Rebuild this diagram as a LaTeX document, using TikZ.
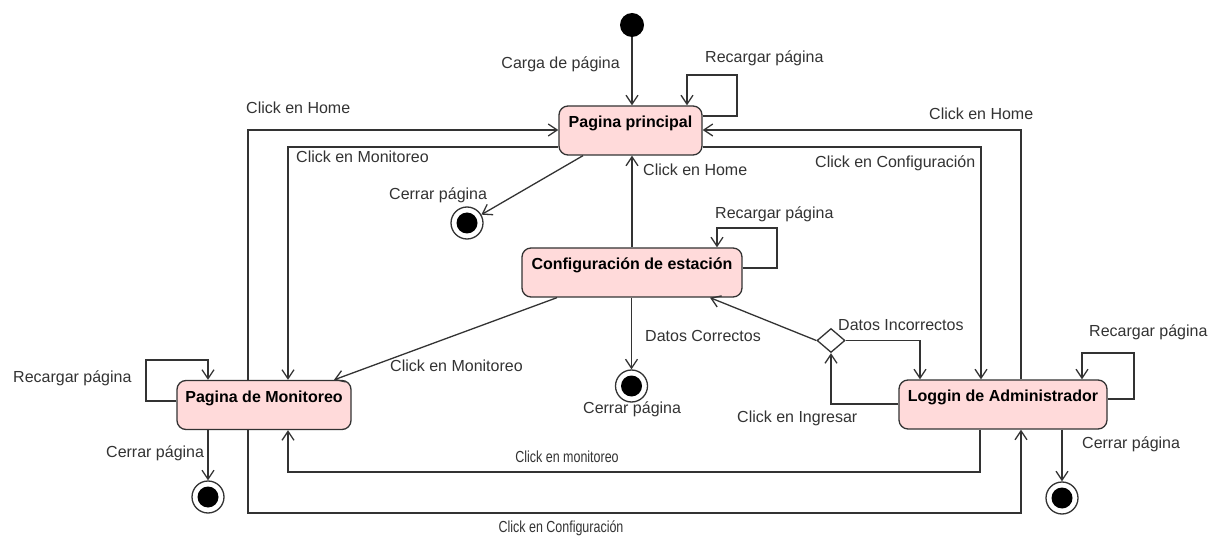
\documentclass[tikz,border=0pt]{standalone}
\usepackage{fontspec}
\usepackage{graphicx}
\setmainfont{Liberation Sans}
\usetikzlibrary{arrows.meta,shapes.geometric}
\definecolor{ln}{HTML}{333333}
\definecolor{boxfill}{HTML}{FFDADA}
\begin{document}
\begin{tikzpicture}[x=1pt,y=-1pt,
 state/.style={draw=ln, line width=1.3pt, fill=boxfill, rounded corners=9pt, minimum height=49pt, inner sep=0pt, text height=12pt, text depth=17.5pt, font=\fontsize{16}{19}\selectfont\bfseries},
 lbl/.style={text=ln, inner sep=0pt, text height=11.7pt, text depth=0pt, font=\fontsize{16}{19}\selectfont},
 arr/.style={draw=ln, line width=1.3pt, -{Straight Barb[length=9pt,width=12pt]}},
 ln/.style={draw=ln, line width=1.3pt},
 finalst/.style={circle, draw=ln, line width=1.3pt, fill=white, minimum size=32pt, inner sep=0pt, path picture={\fill[black] (path picture bounding box.center) circle[radius=10.5pt];}},
 initst/.style={circle, fill=black, minimum size=24pt, inner sep=0pt},
 decision/.style={diamond, draw=ln, line width=1.3pt, fill=white, minimum width=28pt, minimum height=24pt, inner sep=0pt}
]
\fill[white] (0,0) rectangle (1218,537);
\useasboundingbox (0,0) rectangle (1218,537);

% states
\node[initst] (init) at (632,25) {};
\node[state, minimum width=143pt] (pp) at (630.5,130.5) {Pagina principal};
\node[state, minimum width=220pt] (cfg) at (632,272.5) {Configuración de estación};
\node[state, minimum width=174pt] (mon) at (264,405) {Pagina de Monitoreo};
\node[state, minimum width=208pt] (log) at (1003,404.5) {Loggin de Administrador};
\node[finalst] (fin1) at (467,223) {};
\node[finalst] (fin2) at (208,497) {};
\node[finalst] (fin3) at (631.5,386) {};
\node[finalst] (fin4) at (1062,498) {};
\node[decision] (dec) at (831,340.5) {};

% connectors
\draw[arr] (init) -- (init |- pp.north);
\draw[arr] (pp.east |- 0,116) -- (737,116) -- (737,75) -- (687,75) -- (pp.north -| 687,0);
\draw[arr] (mon.north -| 248,0) -- (248,130) -- (pp.west |- 0,130);
\draw[arr] (pp.west |- 0,147) -- (288,147) -- (mon.north -| 288,0);
\draw[arr] (log.north -| 1021,0) -- (1021,130) -- (pp.east |- 0,130);
\draw[arr] (pp.east |- 0,147) -- (981,147) -- (log.north -| 981,0);
\draw[arr] (cfg.north) -- (pp.south -| cfg.north);
\draw[arr] (pp.south -| 583,0) -- (fin1);
\draw[arr] (cfg.east |- 0,268) -- (777,268) -- (777,228) -- (717,228) -- (cfg.north -| 717,0);
\draw[arr] (cfg.south -| 557,0) -- (mon.north -| 334,0);
\draw[arr] (cfg.south -| 631.5,0) -- (fin3);
\draw[arr] (dec.west) -- (cfg.south -| 710,0);
\draw[arr] (dec.east) -- (dec.east -| 920,0) -- (log.north -| 920,0);
\draw[arr] (log.west |- 0,404) -| (dec.south);
\draw[arr] (log.east |- 0,399) -- (1134,399) -- (1134,353) -- (1082,353) -- (log.north -| 1082,0);
\draw[arr] (log.south -| 1062,0) -- (fin4);
\draw[arr] (log.south -| 980,0) -- (980,472) -- (288,472) -- (mon.south -| 288,0);
\draw[arr] (mon.south -| 248,0) -- (248,513) -- (1021,513) -- (log.south -| 1021,0);
\draw[arr] (mon.west |- 0,401) -- (146,401) -- (146,360) -- (208,360) -- (mon.north -| 208,0);
\draw[arr] (mon.south -| 208,0) -- (fin2);

% labels
\node[lbl, anchor=east] (l1) at (620,63) {Carga de página};
\node[lbl, anchor=west] (l2) at (705,57) {Recargar página};
\node[lbl, anchor=west] (l3) at (246,108) {Click en Home};
\node[lbl, anchor=west] (l4) at (296,157) {Click en Monitoreo};
\node[lbl, anchor=west] (l5) at (389,194) {Cerrar página};
\node[lbl, anchor=west] (l6) at (643,170) {Click en Home};
\node[lbl, anchor=west] (l7) at (929,114) {Click en Home};
\node[lbl, anchor=west] (l8) at (815,162) {Click en Configuración};
\node[lbl, anchor=west] (l9) at (715,213) {Recargar página};
\node[lbl, anchor=west] (l10) at (390,366) {Click en Monitoreo};
\node[lbl, anchor=west] (l11) at (645,336) {Datos Correctos};
\node[lbl, anchor=west] (l12) at (583,408) {Cerrar página};
\node[lbl, anchor=west] (l13) at (838,325) {Datos Incorrectos};
\node[lbl, anchor=west] (l14) at (737,417) {Click en Ingresar};
\node[lbl, anchor=west] (l15) at (1089,331) {Recargar página};
\node[lbl, anchor=west] (l16) at (1082,443) {Cerrar página};
\node[lbl, anchor=west] (l17) at (13,377) {Recargar página};
\node[lbl, anchor=west] (l18) at (106,452) {Cerrar página};
\node[lbl] (l19) at (567,457) {\scalebox{0.78}[1]{Click en monitoreo}};
\node[lbl] (l20) at (561,527) {\scalebox{0.78}[1]{Click en Configuración}};
\end{tikzpicture}
\end{document}
